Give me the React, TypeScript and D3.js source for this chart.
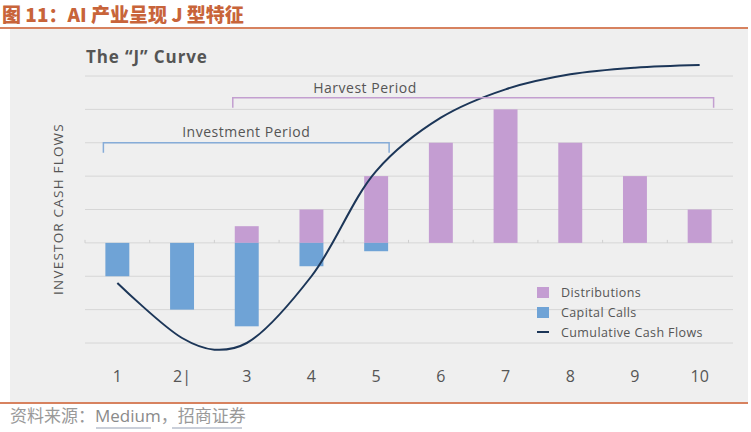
import * as d3 from "d3"

const categories = ["1", "2", "3", "4", "5", "6", "7", "8", "9", "10"]
const tickLabels = ["1", "2|", "3", "4", "5", "6", "7", "8", "9", "10"]
const distributions = [0, 0, 0.5, 1, 2, 3, 4, 3, 2, 1]
const capitalCalls = [-1, -2, -2.5, -0.7, -0.25, 0, 0, 0, 0, 0]
// cumulative cash flow curve
const cumulativeX = [1, 2, 2.5, 3, 4, 5, 6, 7, 8, 9, 10]
const cumulativeY = [-1.2, -2.85, -3.2, -3.0, -1.0, 2.15, 3.75, 4.6, 5.05, 5.25, 5.33]
const gridValues = [-3, -2, -1, 0, 1, 2, 3, 4, 5]
const legendItems = ["Distributions", "Capital Calls", "Cumulative Cash Flows"]

const purple = "#c49dd2"
const blue = "#6fa3d6"
const navy = "#1c3658"
const textGray = "#555"
const font = "'Open Sans', sans-serif"

export default function App() {
    const width = 751
    const height = 432

    const x = d3.scaleBand<string>()
        .domain(categories)
        .range([85, 732])
        .paddingInner(0.63)
        .paddingOuter(0.315)

    const xc = d3.scaleLinear().domain([0.5, 10.5]).range([85, 732])

    const y = d3.scaleLinear().domain([-3, 5]).range([343, 76])

    const line = d3.line<number>()
        .x((d, i) => xc(cumulativeX[i]))
        .y(d => y(d))
        .curve(d3.curveCatmullRom.alpha(0.5))

    const bw = x.bandwidth()
    const boundaries = d3.range(0, 11).map(i => xc(0.5 + i))

    const invL = (x("1") ?? 0) - 2
    const invR = (x("5") ?? 0) + bw + 1
    const harL = (x("3") ?? 0) - 2
    const harR = (x("10") ?? 0) + bw + 2
    const invY = y(3)
    const harY = y(4.35)

    return (
        <svg width={width} height={height} style={{ position: "absolute", left: 0, top: 0, display: "block" }}>
            <rect x={0} y={0} width={width} height={height} fill="#fff" />
            <rect x={10} y={29} width={738} height={373} fill="#efefef" />
            <line x1={0} x2={748} y1={28} y2={28} stroke="#d7825f" strokeWidth={2} />
            <line x1={0} x2={748} y1={403} y2={403} stroke="#d7825f" strokeWidth={2} />

            <text x={2} y={22} fill="#c8643a" fontSize={19} fontWeight="900"
                fontFamily="'Noto Sans CJK SC', sans-serif">图 11：AI 产业呈现 J 型特征</text>

            <text x={86} y={63} fill={textGray} fontSize={17} fontWeight="bold" letterSpacing={0.9} fontFamily={font}>The “J” Curve</text>

            {gridValues.map(v => (
                <line key={v} x1={85} x2={733} y1={y(v)} y2={y(v)} stroke="#d6d6d6" strokeWidth={1} />
            ))}
            {boundaries.map((bx, i) => (
                <line key={i} x1={bx} x2={bx} y1={y(0) - 3} y2={y(0)} stroke="#cfcfcf" strokeWidth={1} />
            ))}

            <text transform={`translate(63,209) rotate(-90)`} textAnchor="middle" fill={textGray}
                fontSize={13.5} letterSpacing={1.2} fontFamily={font}>INVESTOR CASH FLOWS</text>

            {categories.map((c, i) => (
                <g key={c}>
                    {distributions[i] > 0 && (
                        <rect x={x(c)} width={bw} y={y(distributions[i])} height={y(0) - y(distributions[i])} fill={purple} />
                    )}
                    {capitalCalls[i] < 0 && (
                        <rect x={x(c)} width={bw} y={y(0)} height={y(capitalCalls[i]) - y(0)} fill={blue} />
                    )}
                </g>
            ))}

            <path d={line(cumulativeY) ?? ""} fill="none" stroke={navy} strokeWidth={2} />

            {/* brackets */}
            <path d={`M${invL},${invY + 10}V${invY}H${invR}V${invY + 10}`} fill="none" stroke="#86acd8" strokeWidth={1.5} />
            <text x={(invL + invR) / 2} y={137} textAnchor="middle" fill={textGray} fontSize={14} letterSpacing={0.5} fontFamily={font}>Investment Period</text>
            <path d={`M${harL},${harY + 10}V${harY}H${harR}V${harY + 10}`} fill="none" stroke="#c39fd0" strokeWidth={1.5} />
            <text x={365} y={93} textAnchor="middle" fill={textGray} fontSize={14} letterSpacing={0.5} fontFamily={font}>Harvest Period</text>

            {categories.map((c, i) => (
                <text key={c} x={(x(c) ?? 0) + bw / 2} y={382} textAnchor="middle" fill={textGray}
                    fontSize={16} fontFamily={font}>{tickLabels[i]}</text>
            ))}

            {/* legend */}
            {legendItems.map((item, i) => (
                <g key={item} transform={`translate(537,${292 + i * 20})`}>
                    {i < 2 ? (
                        <rect x={0} y={-5} width={12} height={11} fill={i === 0 ? purple : blue} />
                    ) : (
                        <line x1={0} x2={12} y1={0} y2={0} stroke={navy} strokeWidth={2} />
                    )}
                    <text x={24} y={4.5} fill={textGray} fontSize={12.5} letterSpacing={0.4} fontFamily={font}>{item}</text>
                </g>
            ))}

            <text x={10} y={422} fill="#999" fontSize={17} fontFamily="'Noto Sans CJK SC', sans-serif">
                资料来源：<tspan fill="#8a8a8a" fontFamily={font}>Medium</tspan>，招商证券
            </text>
            <line x1={96} x2={151} y1={428} y2={428} stroke="#b8bfcc" strokeWidth={1.5} />
            <line x1={172} x2={242} y1={428} y2={428} stroke="#b8bfcc" strokeWidth={1.5} />
        </svg>
    )
}
